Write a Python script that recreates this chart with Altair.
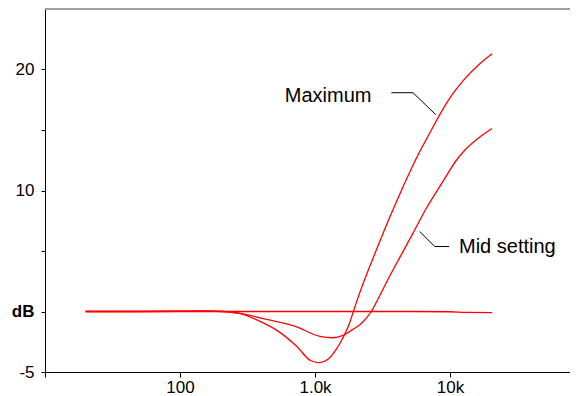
import altair as alt
import pandas as pd

# ---- data ----
flat_freq = [20, 100, 200, 1000, 5000, 10000, 13000, 20500]
flat_db = [0, 0, 0, 0, 0, -0.02, -0.08, -0.1]

max_freq = [20, 50, 100, 150, 210, 277, 389, 532, 728, 940, 1084, 1247, 1436, 1611, 1808,
            1910, 2143, 2850, 3475, 4490, 5800, 6870, 8630, 10500, 12850, 16100, 20500]
max_db = [0, 0, 0.02, 0.05, 0, -0.16, -0.8, -1.62, -2.85, -4.09, -4.22, -3.95, -3.13, -2.17,
          -0.93, -0.1, 1.54, 5.1, 7.45, 10.31, 12.96, 14.48, 16.5, 18.0, 19.23, 20.33, 21.3]

mid_freq = [20, 50, 100, 150, 210, 277, 437, 708, 1084, 1358, 1611, 1910, 2206, 2618, 3013,
            3380, 4240, 5320, 6680, 8870, 11150, 12850, 16100, 20500]
mid_db = [0, 0, 0.02, 0.04, 0, -0.16, -0.66, -1.21, -2.05, -2.17, -1.98, -1.48, -0.99, 0.02,
          1.3, 2.4, 4.45, 6.48, 8.53, 10.75, 12.5, 13.33, 14.3, 15.12]

x_tick_values = [10, 100, 1000, 10000]
x_tick_labels = ["", "100", "1.0k", "10k"]
y_tick_values = [-5, 0, 5, 10, 15, 20]
y_tick_labels = ["-5", "dB", "", "10", "", "20"]

label_text = ["Maximum", "Mid setting"]
label_freq = [597, 11660]
label_db = [17.8, 5.33]

leader_id = ["max", "max", "max", "mid", "mid", "mid"]
leader_order = [0, 1, 2, 0, 1, 2]
leader_freq = [3680, 5321, 7834, 9840, 7709, 5970]
leader_db = [18.08, 18.08, 16.27, 5.37, 5.37, 6.61]

# ---- tables ----
curves = pd.concat([
    pd.DataFrame({"freq": flat_freq, "db": flat_db, "series": "flat"}),
    pd.DataFrame({"freq": max_freq, "db": max_db, "series": "max"}),
    pd.DataFrame({"freq": mid_freq, "db": mid_db, "series": "mid"}),
])
labels = pd.DataFrame({"freq": label_freq, "db": label_db, "text": label_text})
leaders = pd.DataFrame({"freq": leader_freq, "db": leader_db, "id": leader_id, "ord": leader_order})
top = pd.DataFrame({"db": [25]})

def label_expr(values, texts):
    parts = " : ".join(f"datum.value == {v} ? '{t}'" for v, t in zip(values, texts))
    return parts + " : ''"

FONT = "Liberation Sans"
x_scale = alt.Scale(type="log", domain=[10, 77400], nice=False)
y_scale = alt.Scale(domain=[-5, 25], nice=False, zero=False)

x_axis = alt.Axis(values=x_tick_values, labelExpr=label_expr(x_tick_values, x_tick_labels),
                  grid=False, tickSize=5, labelPadding=2, labelFontSize=17, labelFont=FONT,
                  labelColor="#000", domainColor="#000", tickColor="#000", labelFlush=False,
                  title=None)
y_axis = alt.Axis(values=y_tick_values, labelExpr=label_expr(y_tick_values, y_tick_labels),
                  grid=False, tickSize=4, labelPadding=7, labelFontSize=17, labelFont=FONT,
                  labelColor="#000", domainColor="#000", tickColor="#000", title=None,
                  labelFontWeight={"condition": {"test": "datum.value == 0", "value": "bold"},
                                   "value": "normal"})

X = alt.X("freq:Q", scale=x_scale, axis=x_axis)
Y = alt.Y("db:Q", scale=y_scale, axis=y_axis)

lines = alt.Chart(curves).mark_line(stroke="#ff0000", color="#ff0000", strokeWidth=1.3,
                                    interpolate="monotone").encode(
    x=X, y=Y, detail="series:N",
)

top_rule = alt.Chart(top).mark_rule(color="#808080", strokeWidth=1.5).encode(y=Y)

leader_lines = alt.Chart(leaders).mark_line(color="#000", strokeWidth=1).encode(
    x=X, y=Y, detail="id:N", order="ord:Q",
)

texts = alt.Chart(labels).mark_text(font=FONT, fontSize=20, align="left", baseline="middle",
                                    color="#000").encode(
    x=X, y=Y, text="text:N",
)

chart = alt.layer(lines, top_rule, leader_lines, texts).properties(
    width=525, height=363,
    autosize=alt.AutoSizeParams(type="none"),
    padding={"left": 37, "top": 1, "right": 0, "bottom": 24},
).configure_view(stroke=None)

chart.save("out.html", embed_options={"renderer": "svg", "actions": False})
